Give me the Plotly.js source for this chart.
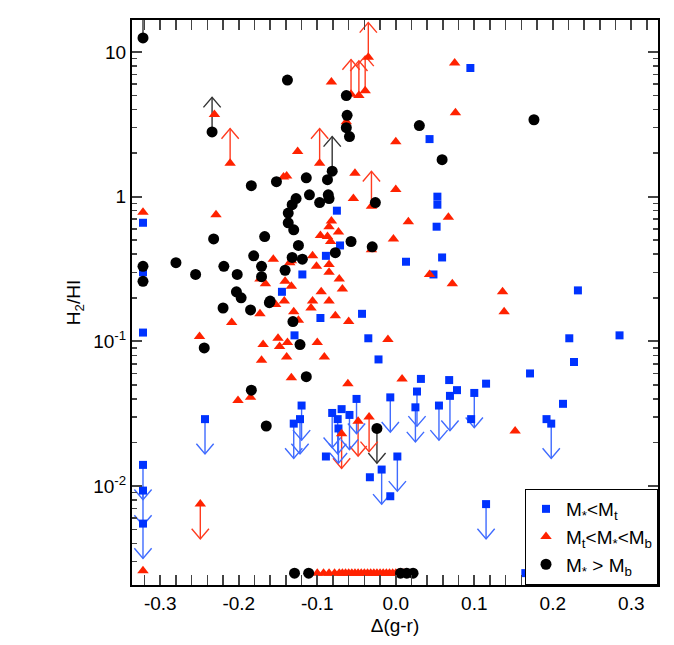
<!DOCTYPE html>
<html><head><meta charset="utf-8">
<script src="https://cdn.plot.ly/plotly-3.0.1.min.js"></script>
<style>body{margin:0;background:#fff}</style></head>
<body><div id="c" style="width:674px;height:645px"></div>
<script>
// Black circles: M* > Mb
const blkX=[-0.322,-0.322,-0.322,-0.234,-0.138,-0.063,-0.062,-0.063,-0.059,-0.184,-0.152,-0.114,-0.087,-0.081,-0.127,-0.110,-0.132,-0.097,-0.086,-0.085,-0.026,-0.137,-0.137,-0.130,-0.232,-0.167,-0.124,-0.057,-0.077,-0.030,-0.280,-0.255,-0.219,-0.202,-0.181,-0.171,-0.132,-0.119,-0.141,-0.171,-0.203,-0.197,-0.160,-0.220,-0.185,-0.161,-0.131,-0.122,-0.244,-0.114,-0.184,-0.165,-0.024,0.030,0.059,0.176];
const blkY=[12.5,0.33,0.26,2.8,6.4,5.0,3.65,3.0,2.6,1.19,1.27,1.35,1.31,1.50,0.97,1.03,0.88,0.91,1.03,0.97,0.91,0.77,0.66,0.59,0.51,0.53,0.46,0.49,0.41,0.45,0.35,0.29,0.33,0.29,0.39,0.33,0.38,0.37,0.31,0.28,0.22,0.20,0.19,0.17,0.165,0.185,0.137,0.095,0.090,0.057,0.046,0.026,0.025,3.1,1.8,3.4];
const blkBotX=[-0.129,-0.111,0.006,0.014,0.022];
// Red triangles: Mt < M* < Mb
const redX=[-0.035,-0.082,-0.057,-0.047,-0.039,-0.063,-0.231,-0.211,-0.125,-0.097,-0.143,-0.139,-0.052,0.000,0.000,-0.054,-0.031,-0.229,-0.082,-0.085,-0.073,-0.096,-0.087,-0.083,-0.003,-0.031,-0.156,-0.106,-0.135,-0.133,-0.101,-0.085,-0.085,-0.072,-0.173,-0.166,-0.141,-0.133,-0.068,-0.095,-0.142,-0.153,-0.106,-0.108,-0.085,-0.130,-0.173,-0.077,-0.209,-0.124,-0.060,-0.250,-0.169,-0.150,-0.148,-0.138,-0.100,-0.171,-0.139,-0.091,-0.010,-0.133,-0.061,-0.201,-0.185,-0.249,-0.034,-0.048,-0.069,0.075,0.076,0.016,0.067,0.043,0.072,0.136,0.138,0.008,0.152,-0.322,-0.322];
const redY=[9.2,6.2,5.1,5.0,5.4,3.3,3.7,1.7,2.05,1.7,1.37,1.39,1.45,2.4,1.12,0.97,0.86,0.75,0.68,0.62,0.57,0.54,0.53,0.49,0.51,0.43,0.37,0.39,0.35,0.36,0.33,0.34,0.30,0.27,0.27,0.25,0.26,0.24,0.23,0.22,0.19,0.18,0.19,0.17,0.19,0.16,0.155,0.15,0.135,0.14,0.137,0.108,0.095,0.105,0.092,0.098,0.098,0.074,0.078,0.078,0.103,0.056,0.051,0.039,0.041,0.0075,0.030,0.028,0.023,8.4,3.8,0.67,0.72,0.29,0.25,0.22,0.16,0.055,0.024,0.78,0.0026];
const redBotX=[-0.100,-0.092,-0.085,-0.078,-0.072,-0.068,-0.064,-0.060,-0.056,-0.052,-0.048,-0.044,-0.040,-0.036,-0.032,-0.028,-0.024,-0.020,-0.016,-0.012,-0.008,-0.004,0.000,0.004,0.010];
// Blue squares: M* < Mt
const bluX=[0.095,0.043,0.053,0.053,0.052,0.059,0.013,0.048,0.232,0.221,0.285,0.227,0.171,0.213,0.192,0.198,0.032,0.068,0.115,0.027,0.078,0.069,0.100,-0.007,0.025,0.055,0.096,0.002,-0.075,-0.071,-0.089,-0.119,-0.145,-0.096,-0.043,-0.129,-0.035,-0.022,-0.243,-0.120,-0.122,-0.130,-0.081,-0.069,-0.059,-0.050,-0.074,-0.073,-0.089,-0.033,-0.018,-0.007,0.115,0.165,-0.322,-0.322,-0.322,-0.322,-0.322,-0.322];
const bluY=[7.75,2.5,1.0,0.88,0.62,0.38,0.355,0.29,0.225,0.105,0.11,0.072,0.060,0.037,0.029,0.027,0.055,0.054,0.051,0.045,0.046,0.042,0.044,0.041,0.035,0.036,0.029,0.016,0.80,0.46,0.39,0.29,0.22,0.145,0.155,0.11,0.105,0.075,0.029,0.036,0.029,0.027,0.032,0.034,0.031,0.040,0.029,0.025,0.016,0.0115,0.013,0.0085,0.0075,0.0025,0.66,0.30,0.115,0.014,0.0093,0.0055];
// Limits
const limX=[-0.322,-0.234,-0.081,-0.035,-0.057,-0.047,-0.039,-0.211,-0.097,-0.031,-0.249,-0.034,-0.048,-0.069,-0.024,0.198,0.027,0.069,0.100,-0.007,0.025,0.055,0.002,-0.243,-0.120,-0.122,-0.130,-0.081,-0.059,-0.050,-0.074,-0.073,-0.018,0.115,-0.322,-0.322,-0.322];
const limY=[12.5,2.8,1.50,9.2,5.1,5.0,5.4,1.7,1.7,0.86,0.0075,0.030,0.028,0.023,0.025,0.027,0.045,0.042,0.044,0.041,0.035,0.036,0.016,0.029,0.036,0.029,0.027,0.032,0.031,0.040,0.029,0.025,0.013,0.0075,0.014,0.0093,0.0055];
const limDir=[1,1,1,1,1,1,1,1,1,1,-1,-1,-1,-1,-1,-1,-1,-1,-1,-1,-1,-1,-1,-1,-1,-1,-1,-1,-1,-1,-1,-1,-1,-1,-1,-1,-1];
const limGrp=['k','k','k','r','r','r','r','r','r','r','r','r','r','r','k','b','b','b','b','b','b','b','b','b','b','b','b','b','b','b','b','b','b','b','b','b','b'];
const botY=0.0025;
const tickVals=[0.01,0.1,1,10];
const tickText=['10<sup>-2</sup>','10<sup>-1</sup>','1','10'];
const minorVals=[];
[0.001,0.01,0.1,1,10].forEach(d=>{for(let k=2;k<=9;k++)minorVals.push(d*k);});

const colMap={k:'#333333',r:'#ff3b1f',b:'#3f6bff'};
const L=0.24, HW=0.011, HH=0.07;
const arrowTraces=['k','r','b'].map(g=>{
  const xs=[],ys=[];
  limX.forEach((x,i)=>{
    if(limGrp[i]!==g)return;
    const ly=Math.log10(limY[i]), d=limDir[i], tip=ly+d*L;
    xs.push(x,x,null, x-HW,x,x+HW,null);
    ys.push(limY[i],Math.pow(10,tip),null, Math.pow(10,tip-d*HH),Math.pow(10,tip),Math.pow(10,tip-d*HH),null);
  });
  return {x:xs,y:ys,mode:'lines',type:'scatter',line:{color:colMap[g],width:1.4},showlegend:false,hoverinfo:'skip'};
});

const traces=arrowTraces.concat([
 {x:bluX,y:bluY,mode:'markers',type:'scatter',name:'M<sub>*</sub><M<sub>t</sub>',marker:{symbol:'square',size:8,color:'#0033ff'}},
 {x:redX.concat(redBotX),y:redY.concat(redBotX.map(()=>botY)),mode:'markers',type:'scatter',name:'M<sub>t</sub><M<sub>*</sub><M<sub>b</sub>',marker:{symbol:'triangle-up',size:10,color:'#ff2200'}},
 {x:blkX.concat(blkBotX),y:blkY.concat(blkBotX.map(()=>botY)),mode:'markers',type:'scatter',name:'M<sub>*</sub> > M<sub>b</sub>',marker:{symbol:'circle',size:11,color:'#000'}},
 {x:[0],y:[1],yaxis:'y2',mode:'markers',marker:{opacity:0},showlegend:false,hoverinfo:'skip'}
]);
const F={family:'Liberation Sans, Arial',size:19,color:'#000'};
const layout={
 width:674,height:645,margin:{l:132,r:16,t:20,b:60},
 paper_bgcolor:'#fff',plot_bgcolor:'#fff',font:F,
 xaxis:{range:[-0.336,0.334],tickvals:[-0.3,-0.2,-0.1,0,0.1,0.2,0.3],ticktext:['-0.3','-0.2','-0.1','0.0','0.1','0.2','0.3'],
  ticks:'inside',ticklen:10,tickwidth:2,mirror:'allticks',showline:true,linewidth:2,linecolor:'#000',showgrid:false,zeroline:false,
  minor:{dtick:0.02,tick0:0,ticks:'inside',ticklen:5,tickwidth:1.5},
  title:{text:'Δ(g-r)',font:F,standoff:6}},
 yaxis:{type:'log',range:[-2.684,1.221],tickvals:tickVals,ticktext:tickText,
  ticks:'inside',ticklen:10,tickwidth:2,mirror:'allticks',showline:true,linewidth:2,linecolor:'#000',showgrid:false,zeroline:false,
  title:{text:'H<sub>2</sub>/HI',font:F,standoff:8}},
 yaxis2:{type:'log',overlaying:'y',matches:'y',range:[-2.684,1.221],tickvals:minorVals,showticklabels:false,
  ticks:'inside',ticklen:5,tickwidth:1.5,mirror:'allticks',showline:false,showgrid:false,zeroline:false},
 legend:{x:1,xanchor:'right',y:0,yanchor:'bottom',bordercolor:'#000',borderwidth:1,bgcolor:'#fff',font:{family:'Liberation Sans, Arial',size:19},traceorder:'normal',itemwidth:30,tracegroupgap:0},
 showlegend:true
};
Plotly.newPlot('c',traces,layout,{displayModeBar:false,staticPlot:true});
</script></body></html>
